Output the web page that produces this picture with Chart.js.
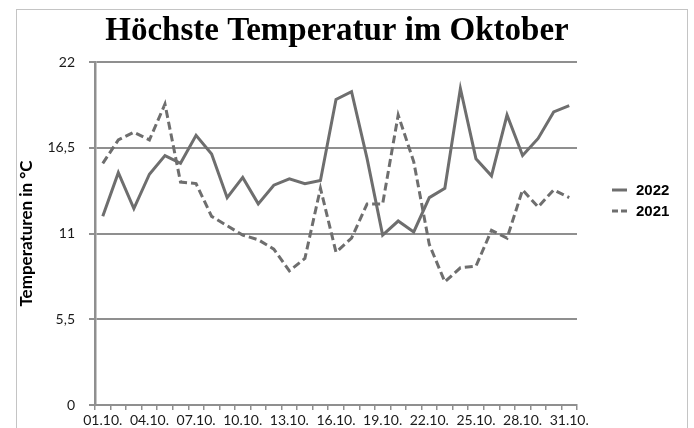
<!DOCTYPE html>
<html>
<head>
<meta charset="utf-8">
<script src="https://cdn.jsdelivr.net/npm/chart.js@4/dist/chart.umd.min.js"></script>
<style>
  html, body { margin: 0; padding: 0; background: #ffffff; }
  #wrap { width: 694px; height: 428px; position: relative; }
</style>
</head>
<body>
<div id="wrap"><canvas id="c" width="694" height="428"></canvas></div>
<script>
const titleText = 'Höchste Temperatur im Oktober';
const yAxisTitle = 'Temperaturen in °C';
const categories = ['01.10.','02.10.','03.10.','04.10.','05.10.','06.10.','07.10.','08.10.','09.10.','10.10.',
  '11.10.','12.10.','13.10.','14.10.','15.10.','16.10.','17.10.','18.10.','19.10.','20.10.',
  '21.10.','22.10.','23.10.','24.10.','25.10.','26.10.','27.10.','28.10.','29.10.','30.10.','31.10.'];
const series2022 = [12.1, 14.9, 12.6, 14.8, 16.0, 15.5, 17.3, 16.1, 13.3, 14.6,
  12.9, 14.1, 14.5, 14.2, 14.4, 19.6, 20.1, 15.8, 10.9, 11.8,
  11.1, 13.3, 13.9, 20.3, 15.8, 14.7, 18.6, 16.0, 17.1, 18.8, 19.2];
const series2021 = [15.5, 17.0, 17.5, 17.0, 19.3, 14.3, 14.2, 12.1, 11.5, 10.9,
  10.6, 10.0, 8.6, 9.4, 13.9, 9.8, 10.7, 12.9, 12.9, 18.6,
  15.6, 10.3, 7.9, 8.8, 8.9, 11.2, 10.7, 13.8, 12.7, 13.8, 13.3];
const yTicks = [0, 5.5, 11, 16.5, 22];

const LINE = '#6e6e6e';
const GRID = '#8f8f8f';

const decor = {
  id: 'decor',
  beforeDraw(chart) {
    const ctx = chart.ctx;
    ctx.save();
    ctx.fillStyle = '#ffffff';
    ctx.fillRect(0, 0, chart.width, chart.height);
    ctx.strokeStyle = '#c4c4c4';
    ctx.lineWidth = 1;
    ctx.strokeRect(16.5, 9.5, 671, 500);
    ctx.restore();
  },
  afterDraw(chart) {
    const ctx = chart.ctx;
    ctx.save();
    // title
    ctx.fillStyle = '#000000';
    ctx.font = 'bold 33px "Liberation Serif"';
    ctx.textAlign = 'center';
    ctx.textBaseline = 'alphabetic';
    ctx.fillText(titleText, 337, 40);
    // legend
    const ys = [190, 211];
    chart.data.datasets.forEach((ds, i) => {
      const y = ys[i];
      ctx.strokeStyle = ds.borderColor;
      ctx.lineWidth = 3;
      ctx.setLineDash(ds.borderDash && ds.borderDash.length ? [6, 3] : []);
      ctx.beginPath();
      ctx.moveTo(612, y);
      ctx.lineTo(627, y);
      ctx.stroke();
      ctx.setLineDash([]);
      ctx.fillStyle = '#000000';
      ctx.font = 'bold 15px "Liberation Sans"';
      ctx.textAlign = 'left';
      ctx.textBaseline = 'middle';
      ctx.fillText(ds.label, 636, y + 1);
    });
    ctx.restore();
  }
};

new Chart(document.getElementById('c'), {
  type: 'line',
  data: {
    labels: categories,
    datasets: [
      { label: '2022', data: series2022, borderColor: LINE, borderWidth: 3,
        pointRadius: 0, tension: 0, fill: false },
      { label: '2021', data: series2021, borderColor: LINE, borderWidth: 3,
        borderDash: [8, 4], pointRadius: 0, tension: 0, fill: false }
    ]
  },
  options: {
    responsive: false,
    animation: false,
    devicePixelRatio: 1,
    layout: { padding: { left: 0, right: 117, top: 62, bottom: 0 } },
    plugins: {
      legend: { display: false },
      title: { display: false },
      tooltip: { enabled: false }
    },
    scales: {
      x: {
        type: 'category',
        offset: true,
        afterFit: (s) => { s.height = 23; },
        grid: { display: true, drawOnChartArea: false, drawTicks: true, offset: true,
                tickLength: 5, color: GRID, lineWidth: 1.5 },
        border: { display: true, color: GRID, width: 2 },
        ticks: {
          autoSkip: false, maxRotation: 0, minRotation: 0, padding: 2,
          color: '#1a1a1a', font: { family: 'Lato', size: 14 },
          callback: function(v, i) { return i % 3 === 0 ? categories[i] : ''; }
        }
      },
      y: {
        min: 0, max: 22,
        afterFit: (s) => { s.width = 95; },
        afterBuildTicks: (s) => { s.ticks = yTicks.map(v => ({ value: v })); },
        grid: { color: GRID, lineWidth: 2, drawTicks: true, tickLength: 6 },
        border: { display: true, color: GRID, width: 2.5 },
        ticks: {
          padding: 14, color: '#1a1a1a', font: { family: 'Lato', size: 14 },
          callback: (v) => String(v).replace('.', ',')
        },
        title: {
          display: true, text: yAxisTitle, color: '#000000',
          font: { family: 'Lato', size: 17, weight: 'bold' },
          padding: { top: 16, bottom: 4 }
        }
      }
    }
  },
  plugins: [decor]
});
</script>
</body>
</html>
